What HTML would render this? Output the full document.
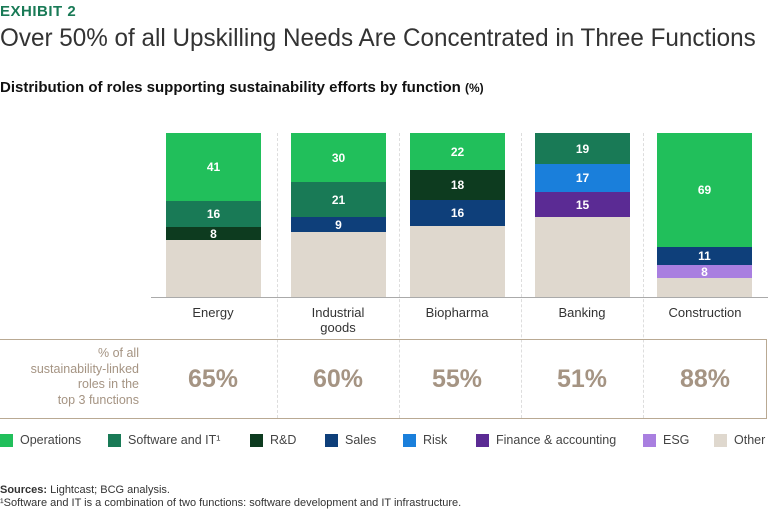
<!DOCTYPE html><html><head><style>
body{margin:0;width:768px;height:510px;background:#fff;font-family:"Liberation Sans",sans-serif;position:relative;overflow:hidden}
.a{position:absolute}
.seg{position:absolute;color:#fff;font-weight:bold;font-size:12px;display:flex;align-items:center;justify-content:center}
.lab{position:absolute;font-size:13px;color:#333;text-align:center;width:120px;line-height:15px}
.big{position:absolute;font-size:25px;font-weight:bold;color:#A59483;text-align:center;width:120px;top:365px}
.sep{position:absolute;top:133px;height:285px;border-left:1px dashed #ddd}
.lg{position:absolute;top:433px;font-size:12.5px;color:#444;white-space:nowrap}
.lg i{position:absolute;left:-20px;top:1px;width:13px;height:13px}
</style></head><body>
<div class="a" style="left:0;top:3px;font-size:15px;font-weight:bold;color:#197A56;letter-spacing:0.5px">EXHIBIT 2</div>
<div class="a" style="left:0;top:24px;font-size:25px;color:#333;white-space:nowrap;transform:scaleX(0.97);transform-origin:0 0">Over 50% of all Upskilling Needs Are Concentrated in Three Functions</div>
<div class="a" style="left:0;top:79px;font-size:15px;font-weight:bold;color:#111;white-space:nowrap">Distribution of roles supporting sustainability efforts by function <span style="font-size:12px">(%)</span></div>
<div class="sep" style="left:277px"></div><div class="sep" style="left:399px"></div><div class="sep" style="left:521px"></div><div class="sep" style="left:643px"></div>
<div class="a" style="left:151px;top:297px;width:617px;height:1px;background:#aaa"></div>
<div class="seg" style="left:166px;width:95px;top:133px;height:68px;background:#21BF5B">41</div>
<div class="seg" style="left:166px;width:95px;top:201px;height:26px;background:#197A56">16</div>
<div class="seg" style="left:166px;width:95px;top:227px;height:13px;background:#0D3B1F">8</div>
<div class="seg" style="left:166px;width:95px;top:240px;height:57px;background:#DFD8CE"></div>
<div class="seg" style="left:291px;width:95px;top:133px;height:49px;background:#21BF5B">30</div>
<div class="seg" style="left:291px;width:95px;top:182px;height:35px;background:#197A56">21</div>
<div class="seg" style="left:291px;width:95px;top:217px;height:15px;background:#0E3F7A">9</div>
<div class="seg" style="left:291px;width:95px;top:232px;height:65px;background:#DFD8CE"></div>
<div class="seg" style="left:410px;width:95px;top:133px;height:37px;background:#21BF5B">22</div>
<div class="seg" style="left:410px;width:95px;top:170px;height:30px;background:#0D3B1F">18</div>
<div class="seg" style="left:410px;width:95px;top:200px;height:26px;background:#0E3F7A">16</div>
<div class="seg" style="left:410px;width:95px;top:226px;height:71px;background:#DFD8CE"></div>
<div class="seg" style="left:535px;width:95px;top:133px;height:31px;background:#197A56">19</div>
<div class="seg" style="left:535px;width:95px;top:164px;height:28px;background:#1A7FDB">17</div>
<div class="seg" style="left:535px;width:95px;top:192px;height:25px;background:#5B2B94">15</div>
<div class="seg" style="left:535px;width:95px;top:217px;height:80px;background:#DFD8CE"></div>
<div class="seg" style="left:657px;width:95px;top:133px;height:114px;background:#21BF5B">69</div>
<div class="seg" style="left:657px;width:95px;top:247px;height:18px;background:#0E3F7A">11</div>
<div class="seg" style="left:657px;width:95px;top:265px;height:13px;background:#A97FE0">8</div>
<div class="seg" style="left:657px;width:95px;top:278px;height:19px;background:#DFD8CE"></div>
<div class="lab" style="left:153px;top:305px">Energy</div>
<div class="lab" style="left:278px;top:305px">Industrial<br>goods</div>
<div class="lab" style="left:397px;top:305px">Biopharma</div>
<div class="lab" style="left:522px;top:305px">Banking</div>
<div class="lab" style="left:645px;top:305px">Construction</div>
<div class="a" style="left:0;top:339px;width:766px;height:78px;border:1px solid #B9A993;border-left:none"></div>
<div class="a" style="left:10px;top:346px;width:129px;text-align:right;font-size:12.5px;line-height:15.5px;color:#A59483">% of all<br>sustainability-linked<br>roles in the<br>top 3 functions</div>
<div class="big" style="left:153px">65%</div><div class="big" style="left:278px">60%</div><div class="big" style="left:397px">55%</div><div class="big" style="left:522px">51%</div><div class="big" style="left:645px">88%</div>
<div class="lg" style="left:20px"><i style="background:#21BF5B"></i>Operations</div>
<div class="lg" style="left:128px"><i style="background:#197A56"></i>Software and IT¹</div>
<div class="lg" style="left:270px"><i style="background:#0D3B1F"></i>R&amp;D</div>
<div class="lg" style="left:345px"><i style="background:#0E3F7A"></i>Sales</div>
<div class="lg" style="left:423px"><i style="background:#1A7FDB"></i>Risk</div>
<div class="lg" style="left:496px"><i style="background:#5B2B94"></i>Finance &amp; accounting</div>
<div class="lg" style="left:663px"><i style="background:#A97FE0"></i>ESG</div>
<div class="lg" style="left:734px"><i style="background:#DFD8CE"></i>Other</div>
<div class="a" style="left:0;top:484px;font-size:11px;color:#333"><b>Sources:</b> Lightcast; BCG analysis.</div>
<div class="a" style="left:0;top:497px;font-size:11px;color:#333">¹Software and IT is a combination of two functions: software development and IT infrastructure.</div>
</body></html>
